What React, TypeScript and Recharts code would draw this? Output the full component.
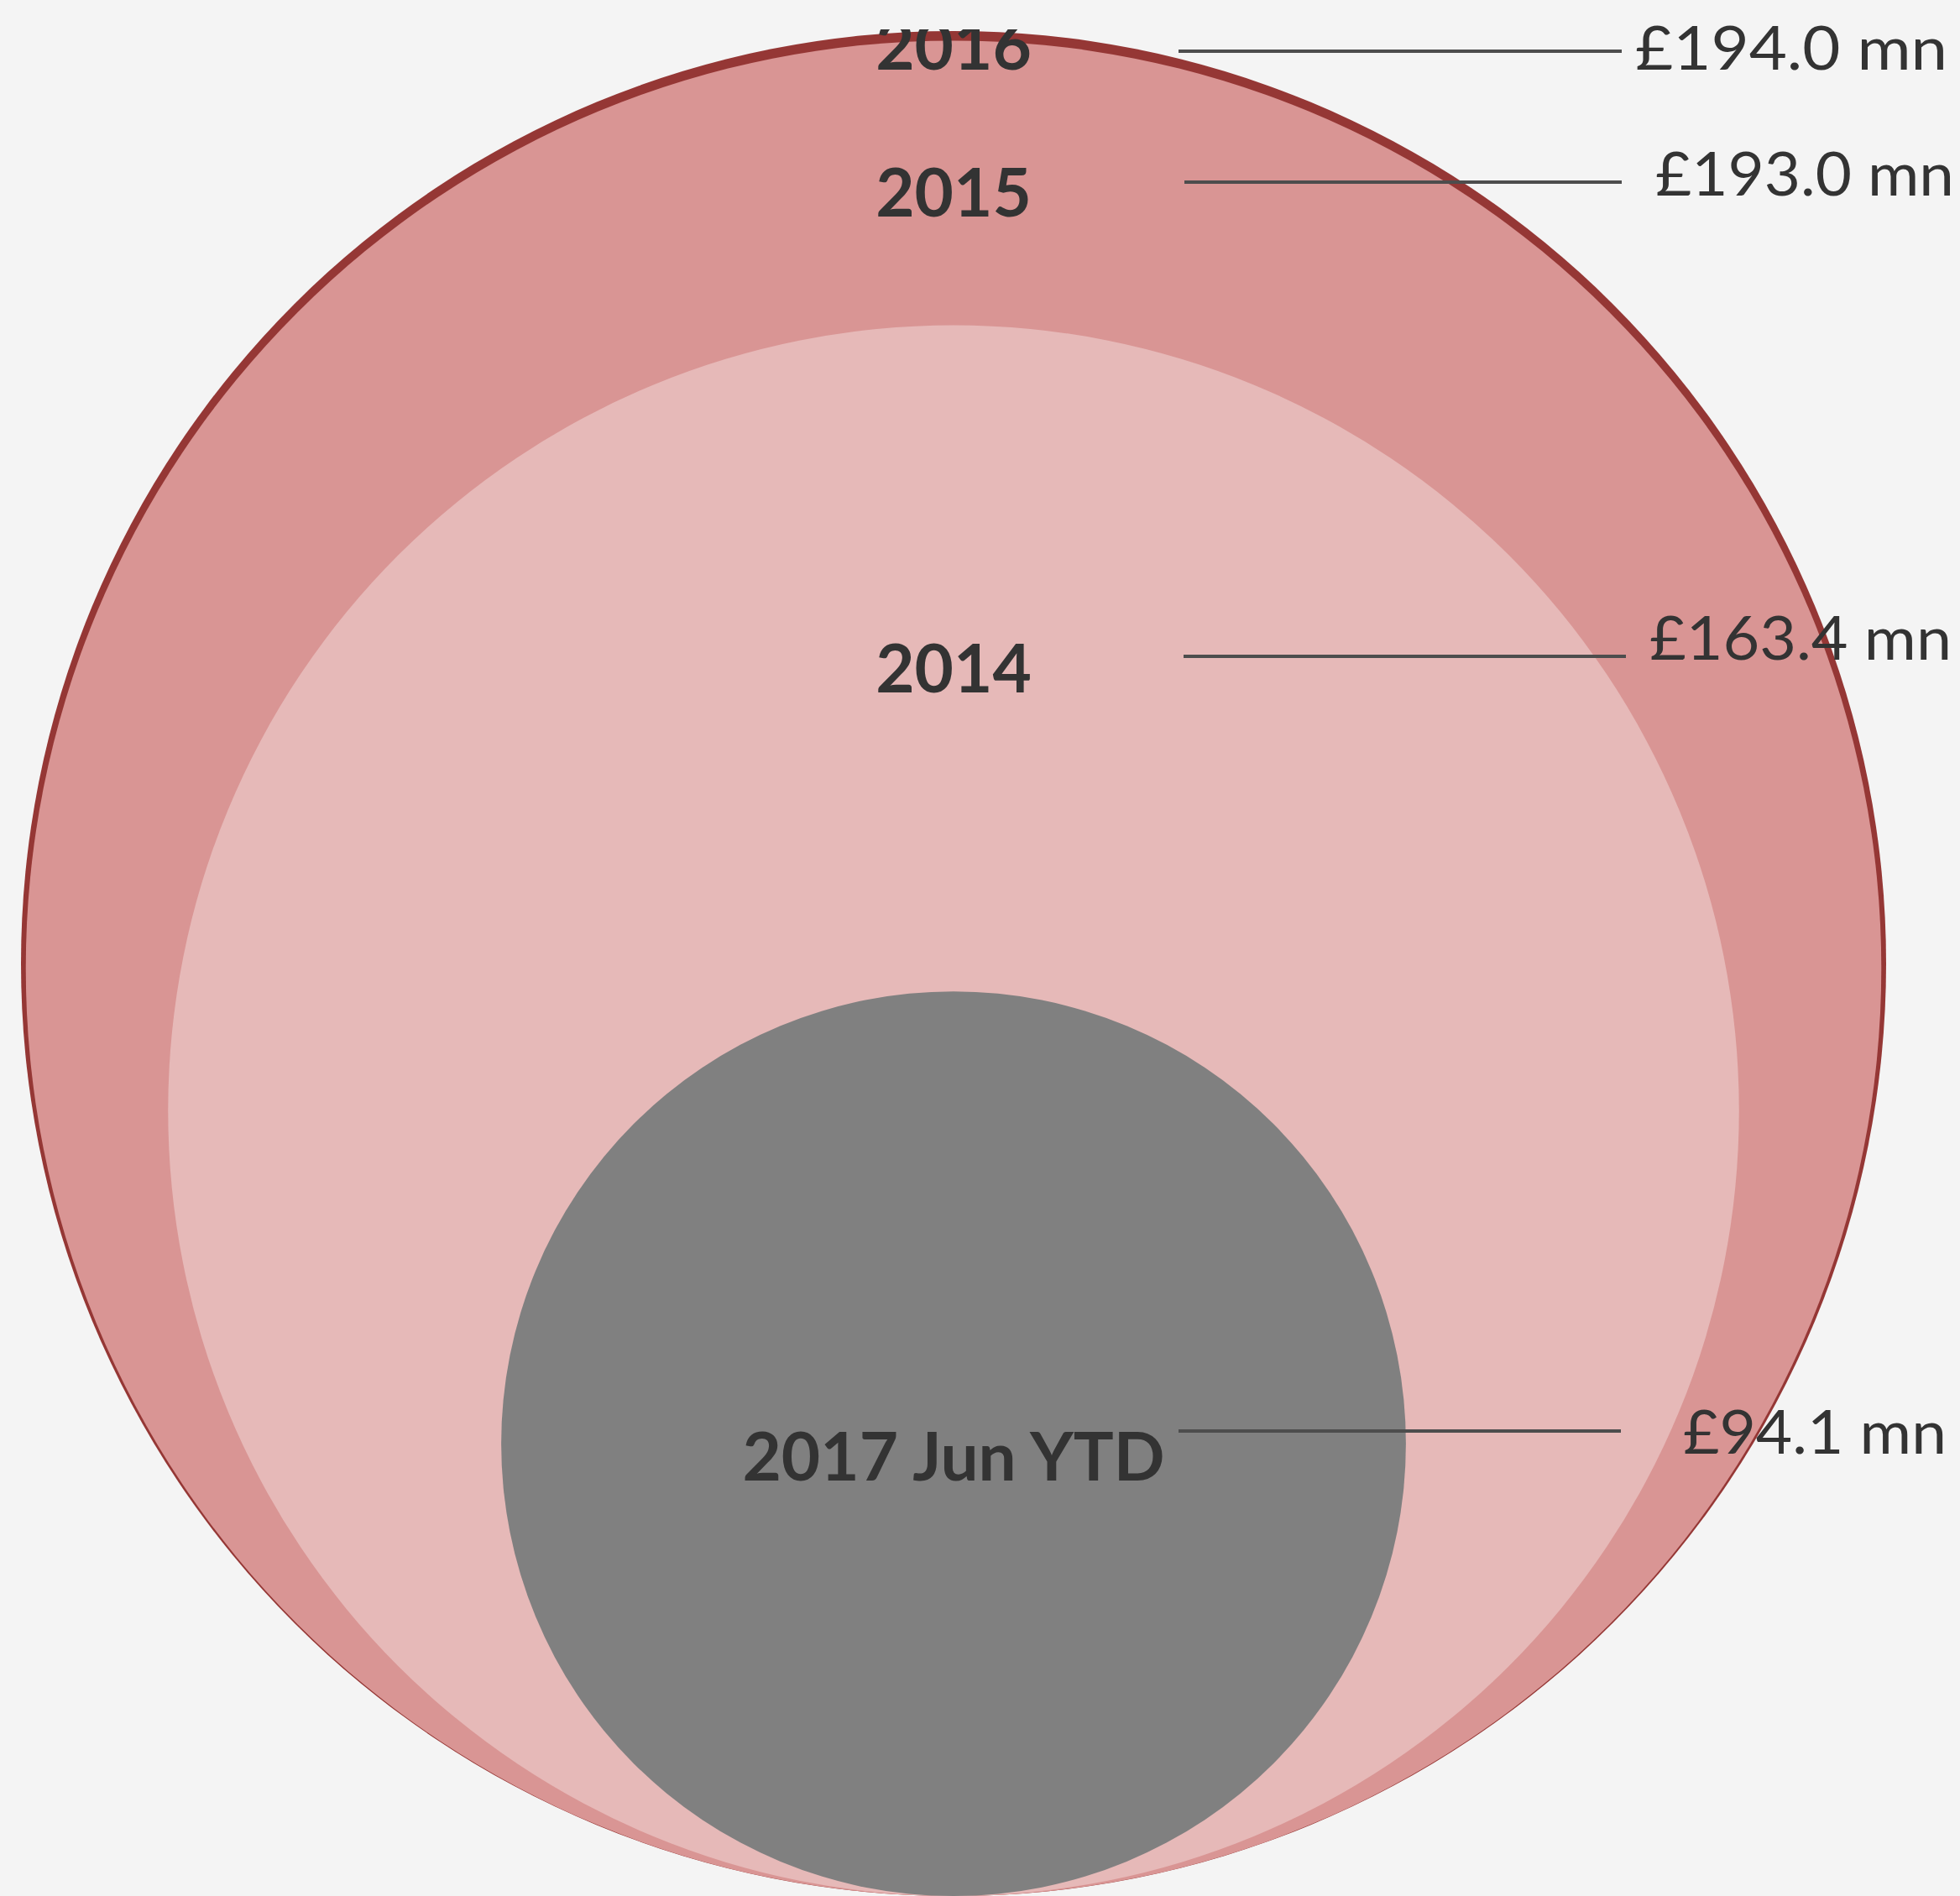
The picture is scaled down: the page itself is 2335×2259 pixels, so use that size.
import { Cell, Scatter, ScatterChart, XAxis, YAxis } from "recharts";

const years = ["2016", "2015", "2014", "2017 Jun YTD"];
const revenue = [194.0, 193.0, 163.4, 94.1];
const fills = ["#953735", "#d99594", "#e6b9b8", "#808080"];

// label placement (px): baselines / leader line y, offsets from the circle centre x
const yearBaseline = [83, 258, 825, 1764];
const lineY = [61, 217, 782, 1705];
const lineDx1 = [268, 275, 274, 268];
const lineDx2 = [796, 796, 801, 795];
const valueDx = [812, 836, 829, 869];
const valueBaseline = [83, 233, 786, 1732];
const valueWidth = [372, 356, 360, 314];

const W = 2335;
const H = 2259;
const margin = { top: 37, right: 63, bottom: 0, left: 0 };
const plotBottom = H - margin.bottom;

const data = years.map((year, i) => ({
  year,
  value: revenue[i],
  pos: 0,
  label: `£${revenue[i].toFixed(1)} mn`,
}));

// radius proportional to value: centre sits at `value` above the baseline
const yMax = 2 * Math.max(...revenue);

const Bubble = (props: any) => {
  const { cx, cy, fill } = props;
  return <circle cx={cx} cy={cy} r={plotBottom - cy} fill={fill} />;
};

const BubbleLabel = (props: any) => {
  const { cx, payload } = props;
  const i = years.indexOf(payload.year);
  const clipId = `year-clip-${i}`;
  return (
    <g>
      <defs>
        <clipPath id={clipId}>
          <rect x={0} y={35} width={W} height={H - 35} />
        </clipPath>
      </defs>
      <text
        x={cx}
        y={yearBaseline[i]}
        textAnchor="middle"
        clipPath={`url(#${clipId})`}
        fontFamily="Lato, sans-serif"
        fontWeight={700}
        fontSize={80}
        fill="#333333"
      >
        {payload.year}
      </text>
      <line
        x1={cx + lineDx1[i]}
        x2={cx + lineDx2[i]}
        y1={lineY[i]}
        y2={lineY[i]}
        stroke="#4d4d4d"
        strokeWidth={4}
      />
      <text
        x={cx + valueDx[i]}
        y={valueBaseline[i]}
        textLength={valueWidth[i]}
        lengthAdjust="spacingAndGlyphs"
        fontFamily="Lato, sans-serif"
        fontWeight={400}
        fontSize={72}
        fill="#333333"
      >
        {payload.label}
      </text>
    </g>
  );
};

export default function App() {
  return (
    <div
      style={{
        position: "absolute",
        left: 0,
        top: 0,
        width: W,
        height: H,
        background: "#f4f4f4",
        overflow: "hidden",
      }}
    >
      <ScatterChart width={W} height={H} margin={margin}>
        <XAxis type="number" dataKey="pos" domain={[-1, 1]} hide />
        <YAxis type="number" dataKey="value" domain={[0, yMax]} hide />
        <Scatter data={data} shape={<Bubble />} isAnimationActive={false}>
          {data.map((d, i) => (
            <Cell key={d.year} fill={fills[i]} />
          ))}
        </Scatter>
        <Scatter data={data} shape={<BubbleLabel />} isAnimationActive={false} />
      </ScatterChart>
    </div>
  );
}
